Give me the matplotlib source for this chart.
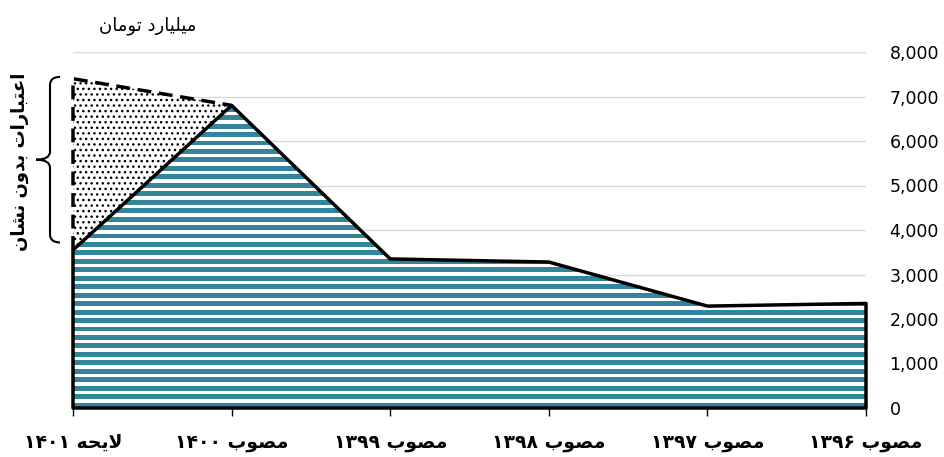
import re
import numpy as np
import matplotlib
matplotlib.use('Agg')
import matplotlib.pyplot as plt
from matplotlib.path import Path
from matplotlib.patches import PathPatch
import matplotlib.transforms as mtransforms

# داده‌ها (میلیارد تومان)
labels = ['لایحه ۱۴۰۱', 'مصوب ۱۴۰۰', 'مصوب ۱۳۹۹', 'مصوب ۱۳۹۸', 'مصوب ۱۳۹۷', 'مصوب ۱۳۹۶']
approved = [3550, 6800, 3350, 3280, 2290, 2350]
total_1401 = 7400          # با اعتبارات بدون نشان
unit_label = 'میلیارد تومان'
brace_label = 'اعتبارات بدون نشان'
yticks = [0, 1000, 2000, 3000, 4000, 5000, 6000, 7000, 8000]

teal = '#31859C'

# شکل‌دهی دستی حروف عربی/فارسی (matplotlib خودش این کار را نمی‌کند)
FORMS = {
    'ا': ('\uFE8D', '\uFE8E', None, None),
    'د': ('\uFEA9', '\uFEAA', None, None),
    'ر': ('\uFEAD', '\uFEAE', None, None),
    'و': ('\uFEED', '\uFEEE', None, None),
    'ب': ('\uFE8F', '\uFE90', '\uFE91', '\uFE92'),
    'ت': ('\uFE95', '\uFE96', '\uFE97', '\uFE98'),
    'ح': ('\uFEA1', '\uFEA2', '\uFEA3', '\uFEA4'),
    'ش': ('\uFEB5', '\uFEB6', '\uFEB7', '\uFEB8'),
    'ص': ('\uFEB9', '\uFEBA', '\uFEBB', '\uFEBC'),
    'ع': ('\uFEC9', '\uFECA', '\uFECB', '\uFECC'),
    'ل': ('\uFEDD', '\uFEDE', '\uFEDF', '\uFEE0'),
    'م': ('\uFEE1', '\uFEE2', '\uFEE3', '\uFEE4'),
    'ن': ('\uFEE5', '\uFEE6', '\uFEE7', '\uFEE8'),
    'ه': ('\uFEE9', '\uFEEA', '\uFEEB', '\uFEEC'),
    'ی': ('\uFBFC', '\uFBFD', '\uFBFE', '\uFBFF'),
}


def fa(s):
    out = []
    i = 0
    while i < len(s):
        c = s[i]
        if c not in FORMS:
            out.append(c)
            i += 1
            continue
        prev = s[i - 1] if i > 0 else ''
        pj = prev in FORMS and FORMS[prev][2] is not None
        if c == 'ل' and i + 1 < len(s) and s[i + 1] == 'ا':
            out.append('\uFEFC' if pj else '\uFEFB')
            i += 2
            continue
        nxt = s[i + 1] if i + 1 < len(s) else ''
        nj = FORMS[c][2] is not None and nxt in FORMS
        iso, fin, ini, med = FORMS[c]
        out.append(med if pj and nj else fin if pj else ini if nj else iso)
        i += 1
    vis = ''.join(out)[::-1]
    return re.sub('[۰-۹0-9,]+', lambda m: m.group(0)[::-1], vis)


plt.rcParams['font.family'] = ['DejaVu Sans']

fig = plt.figure(figsize=(9.44, 4.57), dpi=100)
ax = fig.add_axes([73 / 944, 49 / 457, 793 / 944, 356 / 457])

x = np.arange(len(labels))
ax.set_xlim(x[0], x[-1])
ax.set_ylim(0, 8000)

# ناحیه اصلی با نوارهای افقی
area = ax.fill_between(x, approved, facecolor='white', edgecolor='none', zorder=2)
clip = area.get_paths()[0]
for y0 in np.arange(0, 8000, 190):
    band = ax.axhspan(y0 + 10, y0 + 120, color=teal, lw=0, zorder=2.5)
    band.set_clip_path(clip, ax.transData)
ax.fill_between(x, approved, facecolor='none', edgecolor='black', lw=2.5,
                zorder=4, clip_on=False)

# اعتبارات بدون نشان (نقطه‌چین)
ax.fill([x[0], x[0], x[1]], [approved[0], total_1401, approved[1]],
        facecolor='white', edgecolor='black', hatch='...', lw=0, zorder=3)
ax.plot([x[0], x[0], x[1]], [approved[0], total_1401, approved[1]],
        color='black', lw=2.5, dashes=(4, 2.2), zorder=4, clip_on=False)

# آکولاد
bt = mtransforms.blended_transform_factory(ax.transAxes, ax.transData)
xl, xm, xr = (36 - 73) / 793, (50 - 73) / 793, (60 - 73) / 793
top, bot = total_1401 + 40, approved[0] + 170
mid = (top + bot) / 2
d = 180
verts = [(xr, top), (xm, top), (xm, top - d),
         (xm, mid + d), (xm, mid), (xl, mid),
         (xm, mid), (xm, mid - d),
         (xm, bot + d), (xm, bot), (xr, bot)]
codes = [Path.MOVETO, Path.CURVE3, Path.CURVE3,
         Path.LINETO, Path.CURVE3, Path.CURVE3,
         Path.CURVE3, Path.CURVE3,
         Path.LINETO, Path.CURVE3, Path.CURVE3]
ax.add_patch(PathPatch(Path(verts, codes), transform=bt, fill=False,
                       lw=1.5, color='black', clip_on=False))
fig.text(20 / 944, 1 - 162 / 457, fa(brace_label), rotation=90, fontsize=13,
         fontweight='bold', ha='center', va='center')

fig.text(148 / 944, 1 - 26 / 457, fa(unit_label), fontsize=13,
         ha='center', va='center')

# محورها
ax.yaxis.tick_right()
ax.set_yticks(yticks)
ax.set_yticklabels([f'{v:,}' for v in yticks])
ax.tick_params(axis='y', length=0, pad=17, labelsize=12.5)
ax.set_xticks(x)
ax.set_xticklabels([fa(s) for s in labels], fontsize=13.5, fontweight='bold')
ax.tick_params(axis='x', length=6, width=1, color='black', pad=12)
ax.grid(axis='y', color='#D9D9D9', lw=1)
ax.set_axisbelow(True)
for s in ['top', 'left', 'right']:
    ax.spines[s].set_visible(False)
ax.spines['bottom'].set_color('#BFBFBF')

fig.savefig('out.png', dpi=100)
